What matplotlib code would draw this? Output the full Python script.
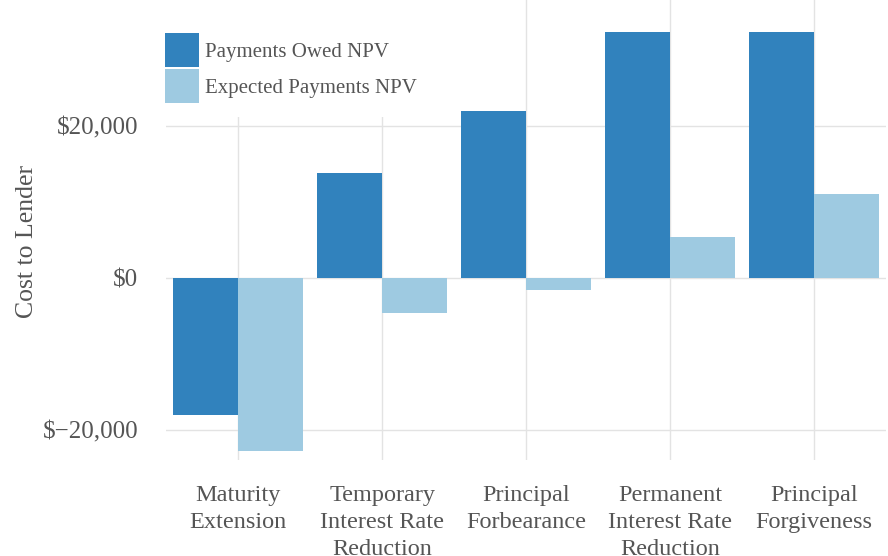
import matplotlib
matplotlib.use("Agg")
import matplotlib.pyplot as plt
from matplotlib.patches import Patch, Rectangle
from matplotlib.ticker import FuncFormatter
import numpy as np

# ── Data ───────────────────────────────────────────────────
categories = [
    "Maturity\nExtension",
    "Temporary\nInterest Rate\nReduction",
    "Principal\nForbearance",
    "Permanent\nInterest Rate\nReduction",
    "Principal\nForgiveness",
]
owed_npv = [-18000, 13800, 21900, 32300, 32300]
expected_npv = [-22700, -4600, -1550, 5400, 11000]
series_labels = ["Payments Owed NPV", "Expected Payments NPV"]
y_ticks = [-20000, 0, 20000]

DARK = "#3182bd"
LIGHT = "#9ecae1"
TEXT = "#555555"
GRID = "#e3e3e3"

plt.rcParams["font.family"] = ["Liberation Serif", "DejaVu Serif"]
plt.rcParams["text.color"] = TEXT

fig = plt.figure(figsize=(8.88, 5.56), dpi=100)
ax = fig.add_axes([0.187, 0.173, 0.811, 0.827])

x = np.arange(len(categories))
w = 0.45
ax.bar(x - w / 2, owed_npv, width=w, color=DARK, zorder=2)
ax.bar(x + w / 2, expected_npv, width=w, color=LIGHT, zorder=2)

ax.set_xlim(-0.5, 4.5)
ax.set_ylim(-23900, 36500)
ax.set_xticks(x)
ax.set_xticklabels(categories, fontsize=17.5, color=TEXT, linespacing=1.37)
ax.set_yticks(y_ticks)


def money(v, pos):
    if v < 0:
        return "$\u2212{:,.0f}".format(-v)
    return "${:,.0f}".format(v)


ax.yaxis.set_major_formatter(FuncFormatter(money))
ax.tick_params(axis="y", length=0, pad=20, labelsize=18, labelcolor=TEXT)
ax.tick_params(axis="x", length=0, pad=18, labelcolor=TEXT)

ax.grid(True, color=GRID, linewidth=1, zorder=0)
ax.set_axisbelow(True)
for s in ax.spines.values():
    s.set_visible(False)

ax.set_ylabel("Cost to Lender", fontsize=18.5, color=TEXT)
ax.yaxis.set_label_coords(-0.178, 0.476)

# white block behind the legend hides the gridlines up there
ax.add_patch(Rectangle((-0.025, 0.746), 0.43, 0.26, transform=ax.transAxes,
                       facecolor="white", edgecolor="none", zorder=1,
                       clip_on=False))

# legend patches are drawn square, ~34 px
handles = [Patch(facecolor=DARK), Patch(facecolor=LIGHT)]
leg = ax.legend(handles, series_labels, loc="upper left",
                bbox_to_anchor=(-0.0245, 0.964), fontsize=15,
                frameon=False, handlelength=1.63, handleheight=2.14,
                labelspacing=0.1, handletextpad=0.3, borderpad=0.3)
for t in leg.get_texts():
    t.set_color(TEXT)

fig.savefig("out.png", dpi=100)
